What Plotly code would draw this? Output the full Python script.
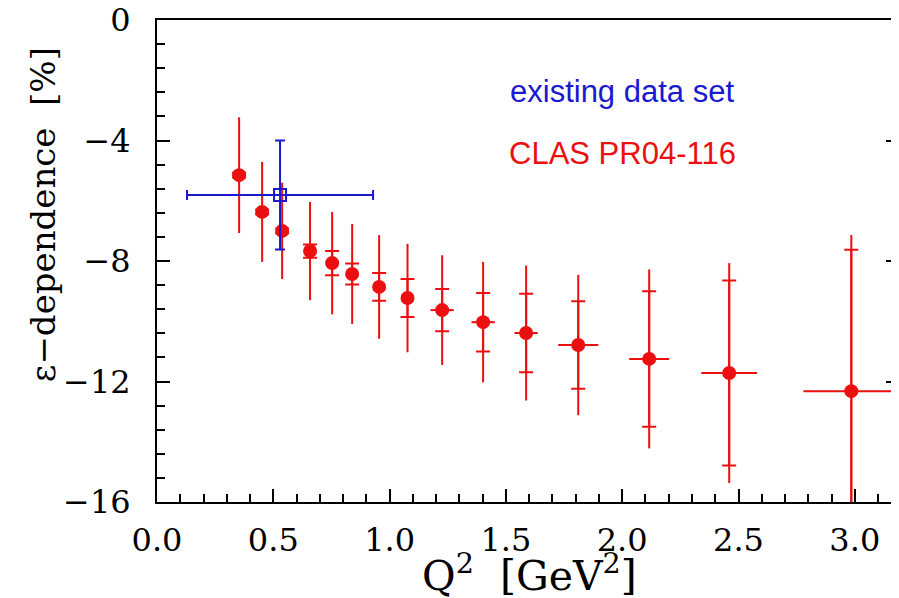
import plotly.graph_objects as go

# CLAS PR04-116 projected points
q2 = [0.353, 0.452, 0.538, 0.658, 0.753, 0.839, 0.955, 1.077, 1.226, 1.402, 1.587, 1.811, 2.116, 2.460, 2.985]
eps_dep = [-5.15, -6.37, -7.00, -7.67, -8.07, -8.43, -8.86, -9.23, -9.63, -10.03, -10.39, -10.79, -11.25, -11.72, -12.32]
err_total = [1.92, 1.66, 1.60, 1.63, 1.70, 1.66, 1.72, 1.80, 1.82, 2.00, 2.24, 2.33, 2.97, 3.65, 5.18]
err_stat = [0.08, 0.08, 0.08, 0.22, 0.40, 0.35, 0.46, 0.63, 0.70, 0.97, 1.30, 1.45, 2.25, 3.07, 4.69]
q2_err = [0.02, 0.02, 0.02, 0.02, 0.02, 0.02, 0.02, 0.02, 0.05, 0.05, 0.05, 0.086, 0.086, 0.12, 0.206]

# existing data set
q2_old = [0.529]
eps_old = [-5.81]
eps_old_err = [1.81]
q2_old_err = [0.40]

RED = "rgb(235,15,15)"
BLUE = "rgb(25,25,210)"

fig = go.Figure()

fig.add_trace(go.Scatter(
    x=q2, y=eps_dep, mode="markers",
    marker=dict(color="rgba(0,0,0,0)", size=1),
    error_y=dict(type="data", array=err_stat, color=RED, thickness=2, width=7),
    showlegend=False,
))
fig.add_trace(go.Scatter(
    x=q2, y=eps_dep, mode="markers",
    marker=dict(color=RED, size=14, symbol="circle"),
    error_y=dict(type="data", array=err_total, color=RED, thickness=2, width=0),
    error_x=dict(type="data", array=q2_err, color=RED, thickness=2, width=0),
    showlegend=False,
))
fig.add_trace(go.Scatter(
    x=q2_old, y=eps_old, mode="markers",
    marker=dict(color=BLUE, size=12, symbol="square-open", line=dict(color=BLUE, width=2)),
    error_y=dict(type="data", array=eps_old_err, color=BLUE, thickness=2, width=5),
    error_x=dict(type="data", array=q2_old_err, color=BLUE, thickness=2, width=5),
    showlegend=False,
))

serif = "DejaVu Serif"
axis_common = dict(
    showgrid=False, zeroline=False, showline=True, linecolor="black", linewidth=2,
    ticks="inside", tickcolor="black", tickwidth=2, ticklen=13,
    tickfont=dict(family=serif, size=32, color="black"),
    ticklabeloverflow="allow", automargin=False,
)

fig.update_xaxes(
    range=[0, 3.19], tick0=0, dtick=0.5, tickformat=".1f", mirror=True,
    minor=dict(ticks="inside", dtick=0.1, ticklen=8, tickwidth=1.5, tickcolor="black"),
    ticklabelstandoff=9,
    **axis_common,
)
fig.update_yaxes(
    range=[-16, 0], tick0=0, dtick=4, mirror="ticks",
    minor=dict(ticks="inside", dtick=0.8, ticklen=8, tickwidth=1.5, tickcolor="black"),
    ticklabelstandoff=18,
    **axis_common,
)

fig.add_annotation(x=2.0, y=-2.36, xref="x", yref="y", text="existing data set",
                   showarrow=False, font=dict(family="Liberation Sans", size=31, color=BLUE))
fig.add_annotation(x=2.0, y=-4.42, xref="x", yref="y", text="CLAS PR04-116",
                   showarrow=False, font=dict(family="Liberation Sans", size=31, color=RED))

fig.add_annotation(x=-0.1536, y=0.595, xref="paper", yref="paper", text="ε−dependence  [%]",
                   xanchor="center", yanchor="middle",
                   textangle=-90, showarrow=False, font=dict(family=serif, size=34, color="black"))
fig.add_annotation(x=0.502, y=-0.147, xref="paper", yref="paper",
                   text="Q<sup>2</sup>  [GeV<sup>2</sup>]", xanchor="center", yanchor="middle",
                   showarrow=False, font=dict(family=serif, size=41, color="black"))

# the page body adds an 8 px offset; margins compensate for it
fig.update_layout(
    width=899, height=598,
    margin=dict(l=149, r=8, t=12, b=104, autoexpand=False),
    paper_bgcolor="white", plot_bgcolor="white",
)

fig.write_html("out.html")
